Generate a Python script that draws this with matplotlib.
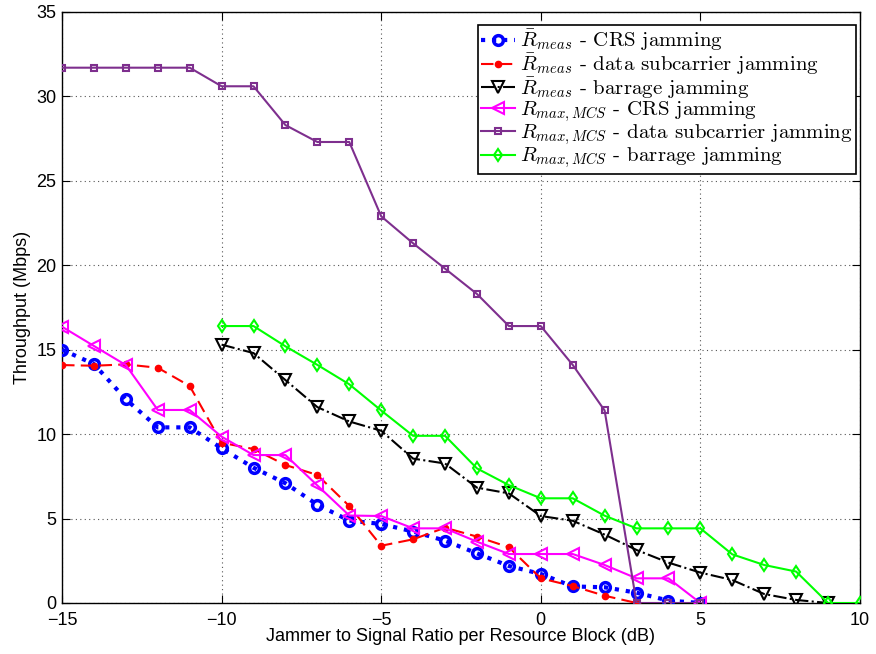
import matplotlib
matplotlib.use("Agg")
import matplotlib.pyplot as plt
import numpy as np

plt.rcParams['font.family'] = ['Liberation Sans', 'DejaVu Sans']
plt.rcParams['mathtext.fontset'] = 'cm'

x_crs_meas = list(range(-15, 6))
y_crs_meas = [15.0, 14.15, 12.06, 10.4, 10.4, 9.16, 8.01, 7.09, 5.82, 4.88, 4.68, 4.23, 3.69, 2.94, 2.19, 1.72, 0.98, 0.93, 0.61, 0.14, 0.0]

x_data_meas = list(range(-15, 4))
y_data_meas = [14.09, 14.05, 14.13, 13.93, 12.85, 9.49, 9.12, 8.17, 7.58, 5.74, 3.39, 3.77, 4.46, 3.93, 3.3, 1.46, 1.0, 0.43, 0.0]

x_barr_meas = list(range(-10, 10))
y_barr_meas = [15.3, 14.8, 13.2, 11.6, 10.75, 10.2, 8.55, 8.26, 6.83, 6.49, 5.15, 4.87, 4.05, 3.14, 2.39, 1.8, 1.36, 0.53, 0.18, 0.0]

x_crs_max = list(range(-15, 6))
y_crs_max = [16.36, 15.22, 14.09, 11.43, 11.43, 9.85, 8.76, 8.76, 6.96, 5.18, 5.15, 4.42, 4.42, 3.63, 2.9, 2.9, 2.9, 2.25, 1.46, 1.46, 0.0]

x_data_max = list(range(-15, 6))
y_data_max = [31.7, 31.7, 31.7, 31.7, 31.7, 30.6, 30.6, 28.3, 27.3, 27.3, 22.9, 21.3, 19.8, 18.3, 16.4, 16.4, 14.1, 11.4, 0.0, 0.0, 0.0]

x_barr_max = list(range(-10, 11))
y_barr_max = [16.4, 16.4, 15.2, 14.1, 12.95, 11.4, 9.9, 9.9, 7.97, 6.98, 6.2, 6.2, 5.17, 4.42, 4.42, 4.42, 2.88, 2.25, 1.86, 0.0, 0.0]

labels = [
    r'$\bar{R}_{meas}$ - CRS jamming',
    r'$\bar{R}_{meas}$ - data subcarrier jamming',
    r'$\bar{R}_{meas}$ - barrage jamming',
    r'$R_{max,MCS}$ - CRS jamming',
    r'$R_{max,MCS}$ - data subcarrier jamming',
    r'$R_{max,MCS}$ - barrage jamming',
]

fig = plt.figure(figsize=(8.76, 6.54), dpi=100)
ax = fig.add_axes([0.0708, 0.078, 0.9109, 0.9037])

purple = '#7E2F8E'
ax.plot(x_crs_meas, y_crs_meas, ':', color='#0000FF', lw=3, marker='o', ms=7,
        mfc='none', mec='#0000FF', mew=2.5, label=labels[0], zorder=3)
ax.plot(x_data_meas, y_data_meas, '--', color='#FF0000', lw=1.5, marker='o', ms=4.5,
        mfc='#FF0000', mec='#FF0000', dashes=(6, 3), label=labels[1], zorder=3)
ax.plot(x_barr_meas, y_barr_meas, '-.', color='black', lw=1.5, marker='v', ms=8,
        mfc='none', mec='black', mew=1.5, label=labels[2], zorder=3)
ax.plot(x_crs_max, y_crs_max, '-', color='#FF00FF', lw=1.5, marker='<', ms=9,
        mfc='none', mec='#FF00FF', mew=1.5, label=labels[3], zorder=3)
ax.plot(x_data_max, y_data_max, '-', color=purple, lw=1.5, marker='s', ms=5,
        mfc='none', mec=purple, mew=1.5, label=labels[4], zorder=3)
ax.plot(x_barr_max, y_barr_max, '-', color='#00FF00', lw=1.5, marker='d', ms=6.5,
        mfc='none', mec='#00FF00', mew=1.5, label=labels[5], zorder=3)

ax.set_xlim(-15, 10)
ax.set_ylim(0, 35)
ax.set_xticks(np.arange(-15, 11, 5))
ax.set_xticklabels(['\u221215', '\u221210', '\u22125', '0', '5', '10'])
ax.set_yticks(np.arange(0, 36, 5))
ax.tick_params(direction='in', top=True, right=True, labelsize=13, length=6, pad=4)
ax.tick_params(axis='x', pad=6.5)
ax.grid(True, linestyle=(0, (1, 3)), color='#555555', lw=0.8)
ax.set_axisbelow(True)
for s in ax.spines.values():
    s.set_linewidth(1.0)

ax.set_xlabel('Jammer to Signal Ratio per Resource Block (dB)', fontsize=13, labelpad=-1)
ax.set_ylabel('Throughput (Mbps)', fontsize=13, labelpad=4)

leg = ax.legend(loc='upper right', prop={'family': 'cmr10', 'size': 15}, frameon=True,
                fancybox=False, edgecolor='black', framealpha=1, borderpad=0.15,
                labelspacing=-0.08, handlelength=1.6, handletextpad=0.25,
                borderaxespad=0.2, bbox_to_anchor=(1.0, 0.985))
leg.get_frame().set_linewidth(1.2)

fig.savefig('out.png', dpi=100)
